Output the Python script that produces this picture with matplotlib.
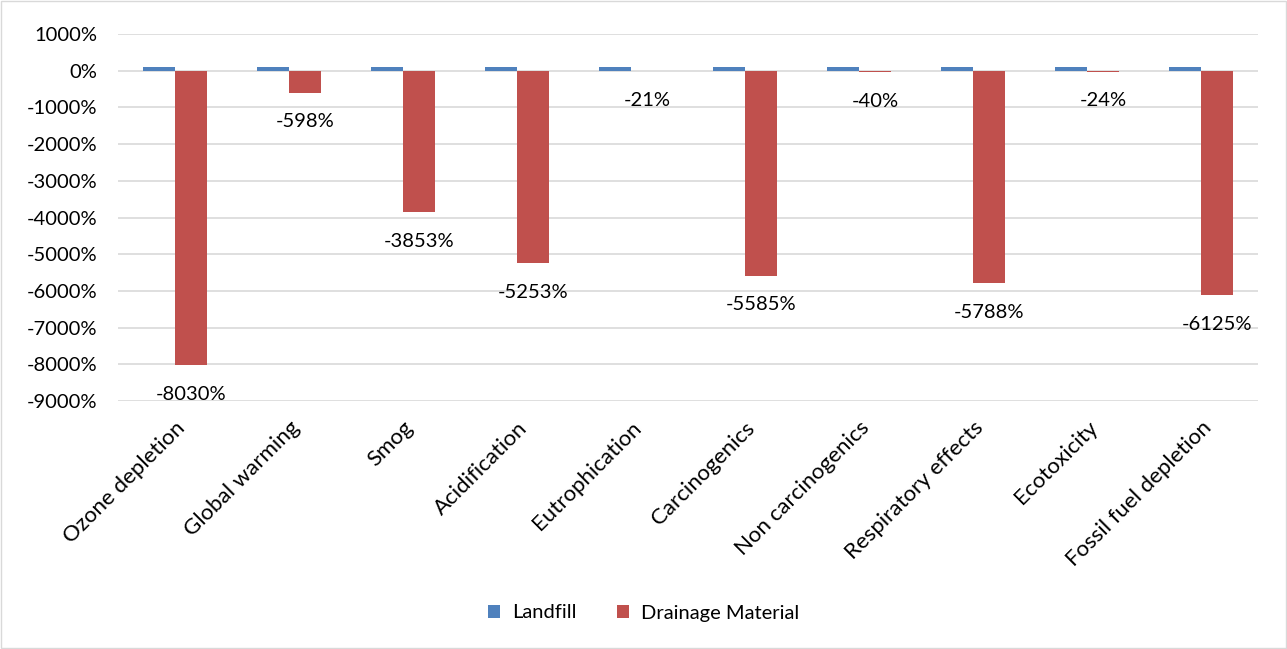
import numpy as np
import matplotlib.pyplot as plt
from matplotlib.patches import Rectangle

categories = ["Ozone depletion", "Global warming", "Smog", "Acidification",
              "Eutrophication", "Carcinogenics", "Non carcinogenics",
              "Respiratory effects", "Ecotoxicity", "Fossil fuel depletion"]
landfill = [100, 100, 100, 100, 100, 100, 100, 100, 100, 100]
drainage = [-8030, -598, -3853, -5253, -21, -5585, -40, -5788, -24, -6125]

plt.rcParams['font.family'] = ['Lato', 'DejaVu Sans']
fs = 14.5

fig = plt.figure(figsize=(12.87, 6.49), dpi=100)
ax = fig.add_axes([118 / 1287, 1 - 401 / 649, 1140 / 1287, 367 / 649])

x = np.arange(len(categories))
w = 0.285
ax.bar(x - w / 2, landfill, w, color='#4F81BD', label='Landfill', zorder=3)
bars = ax.bar(x + w / 2, drainage, w, color='#C0504D', label='Drainage Material', zorder=3)

for b, v in zip(bars, drainage):
    ax.annotate(f"{v}%", (b.get_x() + b.get_width() / 2, v), xytext=(0, -21),
                textcoords='offset points', ha='center', va='center', fontsize=fs)

ax.set_xlim(-0.5, len(categories) - 0.5)
ax.set_ylim(-9000, 1000)
ax.set_yticks(np.arange(-9000, 1001, 1000))
ax.set_yticklabels([f"{t}%" for t in range(-9000, 1001, 1000)], fontsize=fs)
ax.set_xticks(x)
ax.set_xticklabels(categories, rotation=45, ha='right', rotation_mode='anchor', fontsize=16)
ax.tick_params(length=0)
ax.tick_params(axis='y', pad=15)
ax.tick_params(axis='x', pad=12)
ax.grid(axis='y', color='#d9d9d9', linewidth=1.2, zorder=0)
for s in ax.spines.values():
    s.set_visible(False)

fig.legend(loc='center', bbox_to_anchor=(0.5, 1 - 613 / 649), ncol=2, frameon=False,
           fontsize=fs, handlelength=0.6, handleheight=0.6, columnspacing=2.0, handletextpad=0.6)

fig.patches.append(Rectangle((0.001, 0.001), 0.998, 0.998, transform=fig.transFigure,
                             fill=False, edgecolor='#d9d9d9', linewidth=1))

fig.savefig('out.png', dpi=100)
